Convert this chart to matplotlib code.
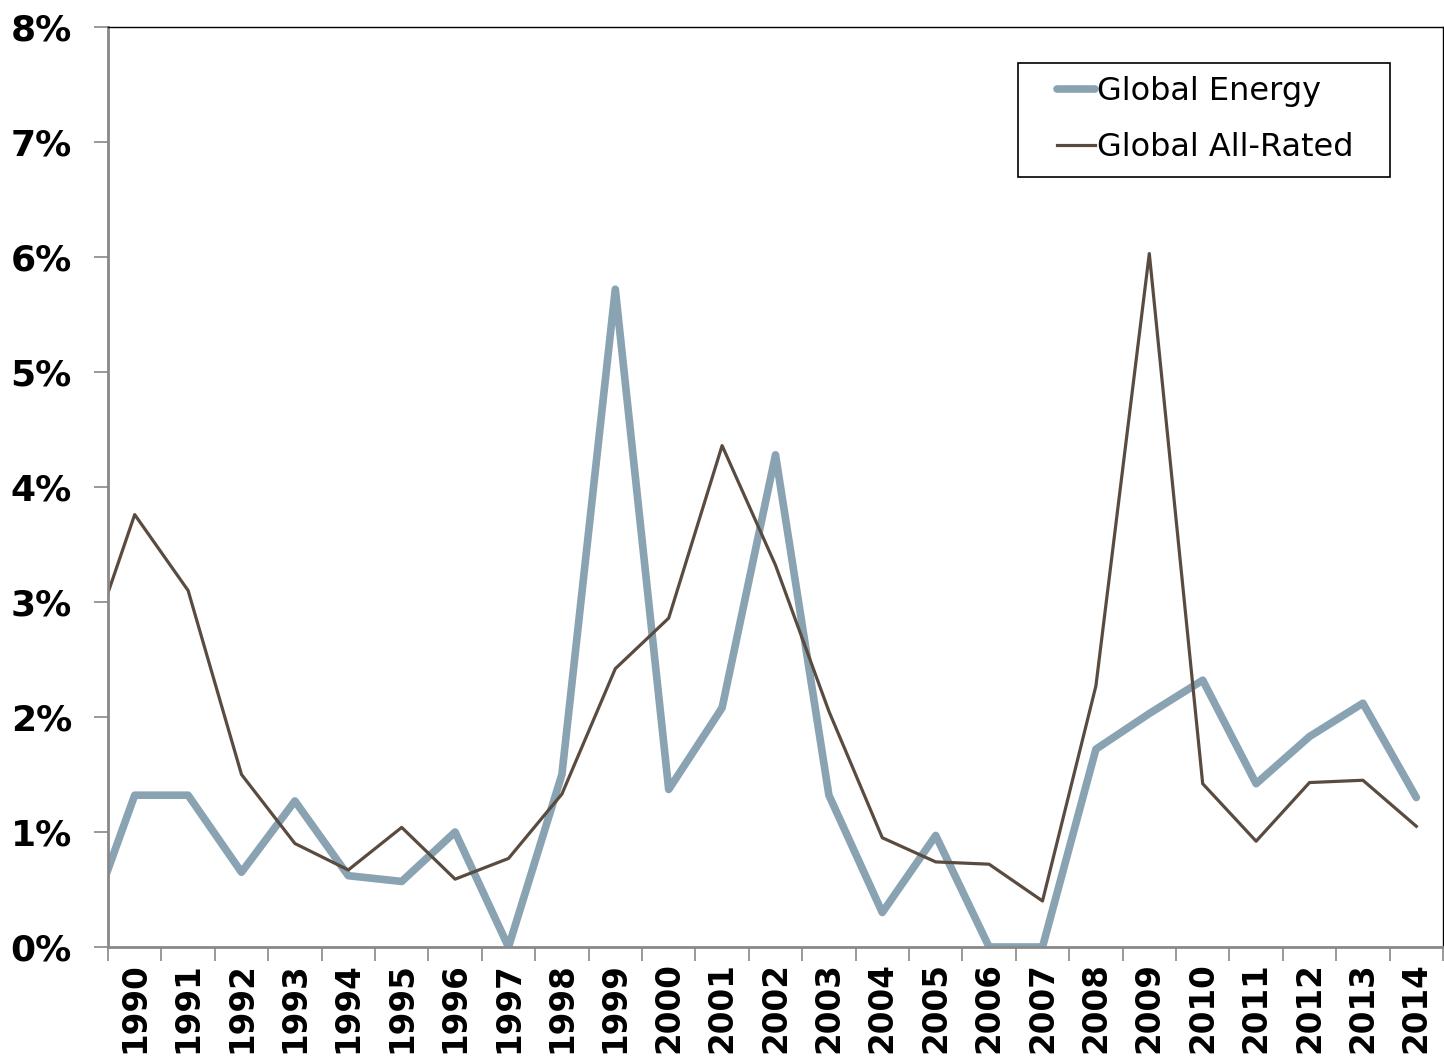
import matplotlib
matplotlib.use("Agg")
import numpy as np
import matplotlib.pyplot as plt
from matplotlib.ticker import FixedLocator, FuncFormatter
from matplotlib.legend_handler import HandlerLine2D

# data (1989 point only feeds the clipped segment at the left edge)
years = list(range(1989, 2015))
global_energy = [0.03, 1.32, 1.32, 0.65, 1.27, 0.62, 0.57, 1.00, 0.00, 1.50,
                 5.72, 1.37, 2.08, 4.28, 1.32, 0.30, 0.97, 0.00, 0.00, 1.72,
                 2.03, 2.32, 1.42, 1.83, 2.12, 1.30]
global_all_rated = [2.40, 3.76, 3.10, 1.50, 0.90, 0.67, 1.04, 0.59, 0.77, 1.33,
                    2.42, 2.86, 4.36, 3.32, 2.05, 0.95, 0.74, 0.72, 0.40, 2.27,
                    6.03, 1.42, 0.92, 1.43, 1.45, 1.05]
year_labels = [str(y) for y in range(1990, 2015)]

ENERGY_COLOR = "#8aa3b2"
ALLRATED_COLOR = "#5a4b40"


class ShortLineHandler(HandlerLine2D):
    # legend line only on the right part of the handle box
    def get_xdata(self, legend, xdescent, ydescent, width, height, fontsize):
        xdata, xdata_marker = super().get_xdata(legend, xdescent, ydescent,
                                                width, height, fontsize)
        return np.array([-xdescent + 0.4 * width, -xdescent + width]), xdata_marker


fig = plt.figure(figsize=(14.44, 10.58), dpi=100)
ax = fig.add_axes([108 / 1444, 1 - 947 / 1058, 1335 / 1444, 920 / 1058])

ax.plot(years, global_energy, color=ENERGY_COLOR, lw=5.5, label="Global Energy",
        solid_joinstyle="round", solid_capstyle="round")
ax.plot(years, global_all_rated, color=ALLRATED_COLOR, lw=2.3, label="Global All-Rated")

ax.set_xlim(1989.5, 2014.5)
ax.set_ylim(0, 8)

# y axis
ax.set_yticks(range(0, 9))
ax.yaxis.set_major_formatter(FuncFormatter(lambda v, p: f"{int(v)}%"))
ax.tick_params(axis="y", direction="out", length=10, width=1.2, color="#888888",
               pad=16, labelsize=26)
for lbl in ax.get_yticklabels():
    lbl.set_fontweight("bold")

# x axis: ticks at category boundaries, labels centred on years
ax.xaxis.set_major_locator(FixedLocator([y + 0.5 for y in range(1989, 2015)]))
ax.xaxis.set_minor_locator(FixedLocator(list(range(1990, 2015))))
ax.xaxis.set_major_formatter(FuncFormatter(lambda v, p: ""))
ax.set_xticklabels(year_labels, minor=True, rotation=90, fontsize=23.5,
                   fontweight="bold", va="top")
ax.tick_params(axis="x", which="major", direction="out", length=10, width=1.2,
               color="#888888")
ax.tick_params(axis="x", which="minor", length=0, pad=11)

ax.spines["left"].set_color("#888888")
ax.spines["bottom"].set_color("#888888")
ax.spines["left"].set_linewidth(2)
ax.spines["bottom"].set_linewidth(2)
ax.spines["top"].set_color("black")
ax.spines["right"].set_color("black")
ax.spines["top"].set_linewidth(1)
ax.spines["right"].set_linewidth(1)

leg = ax.legend(loc="upper left", bbox_to_anchor=(0.6816, 0.80, 0.2787, 0.1609),
                mode="expand", fontsize=23,
                frameon=True, fancybox=False, edgecolor="black", framealpha=1,
                handlelength=2.0, handletextpad=0.05, labelspacing=0.78,
                borderpad=0.42, borderaxespad=0,
                handler_map={plt.Line2D: ShortLineHandler()})
leg.get_frame().set_linewidth(1.2)

plt.savefig("out.png", dpi=100)
